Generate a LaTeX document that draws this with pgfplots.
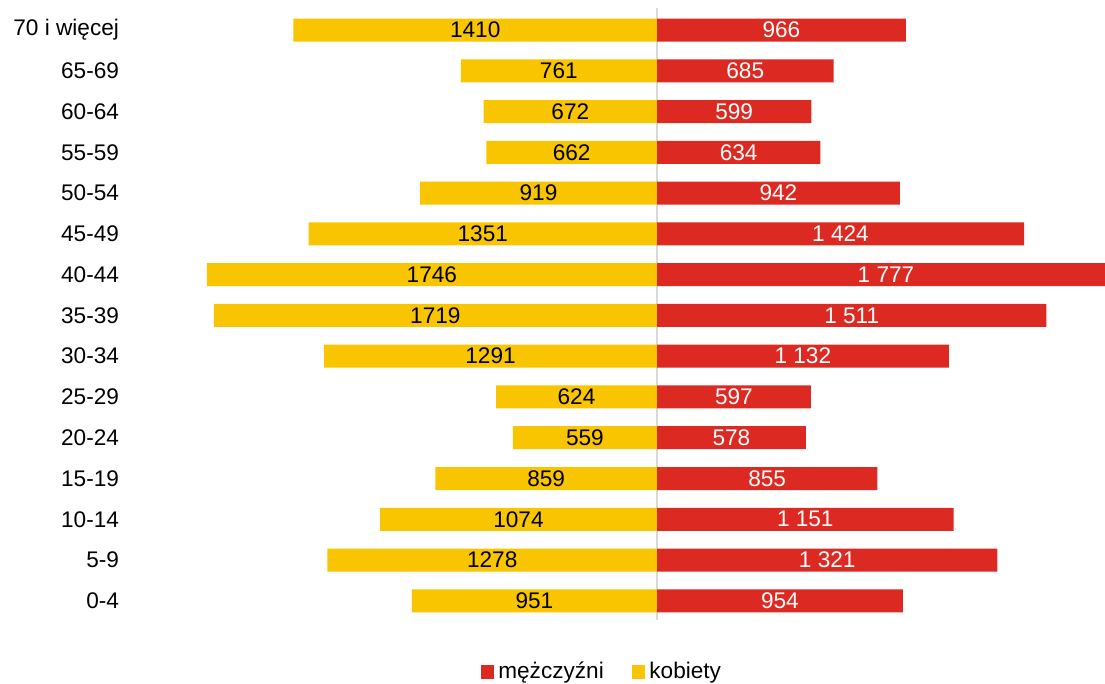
\documentclass[border=0pt]{standalone}
\usepackage{fontspec}
\setmainfont{Liberation Sans}
\usepackage{pgfplots}
\usepackage{pgfplotstable}
\pgfplotsset{compat=1.18}
\definecolor{kob}{HTML}{F8C500}
\definecolor{mez}{HTML}{DC2A22}
\pgfplotstableread{
y women men
0 951 954
1 1278 1321
2 1074 1151
3 859 855
4 559 578
5 624 597
6 1291 1132
7 1719 1511
8 1746 1777
9 1351 1424
10 919 942
11 662 634
12 672 599
13 761 685
14 1410 966
}\data
\begin{document}
\begin{tikzpicture}[font=\fontsize{11.3}{13}\selectfont]
\begin{axis}[
  name=ax,
  scale only axis,
  width=487.5pt, height=306pt,
  xmin=-2044, xmax=1738,
  ymin=-0.47, ymax=14.54,
  axis line style={draw=none},
  xtick=\empty,
  ytick={0,...,14},
  yticklabels={0-4,5-9,10-14,15-19,20-24,25-29,30-34,35-39,40-44,45-49,50-54,55-59,60-64,65-69,70 i więcej},
  major tick length=0pt,
  yticklabel style={anchor=east, xshift=-2pt},
  extra x ticks={0},
  extra x tick labels={},
  extra x tick style={grid=major, major grid style={draw=black!15, line width=0.8pt}},
  /pgf/number format/assume math mode=true,
  legend style={at={(0.485,-0.085)}, anchor=center, draw=none, legend columns=2,
    /tikz/every even column/.append style={column sep=12pt}},
  legend image code/.code={\fill[#1] (0pt,-3.4pt) rectangle (6.8pt,3.4pt);},
]
\addplot[xbar, bar width=11.5pt, fill=mez, draw=none] table[x=men, y=y] {\data};
\addlegendentry{mężczyźni}
\addplot[xbar, bar width=11.5pt, fill=kob, draw=none] table[x expr=-\thisrow{women}, y=y] {\data};
\addlegendentry{kobiety}
\addplot[only marks, mark=none, forget plot, point meta=explicit,
  nodes near coords={\pgfmathprintnumber[1000 sep={\ }]{\pgfplotspointmeta}},
  every node near coord/.append style={anchor=center, text=white}]
  table[x expr=\thisrow{men}/2, y=y, meta=men] {\data};
\addplot[only marks, mark=none, forget plot, point meta=explicit,
  nodes near coords={\pgfmathprintnumber[1000 sep={}]{\pgfplotspointmeta}},
  every node near coord/.append style={anchor=center, text=black}]
  table[x expr=-\thisrow{women}/2, y=y, meta=women] {\data};
\end{axis}
\pgfresetboundingbox
\path ([shift={(-65pt,-32pt)}]ax.south west) rectangle ([shift={(0pt,4pt)}]ax.north east);
\end{tikzpicture}
\end{document}
